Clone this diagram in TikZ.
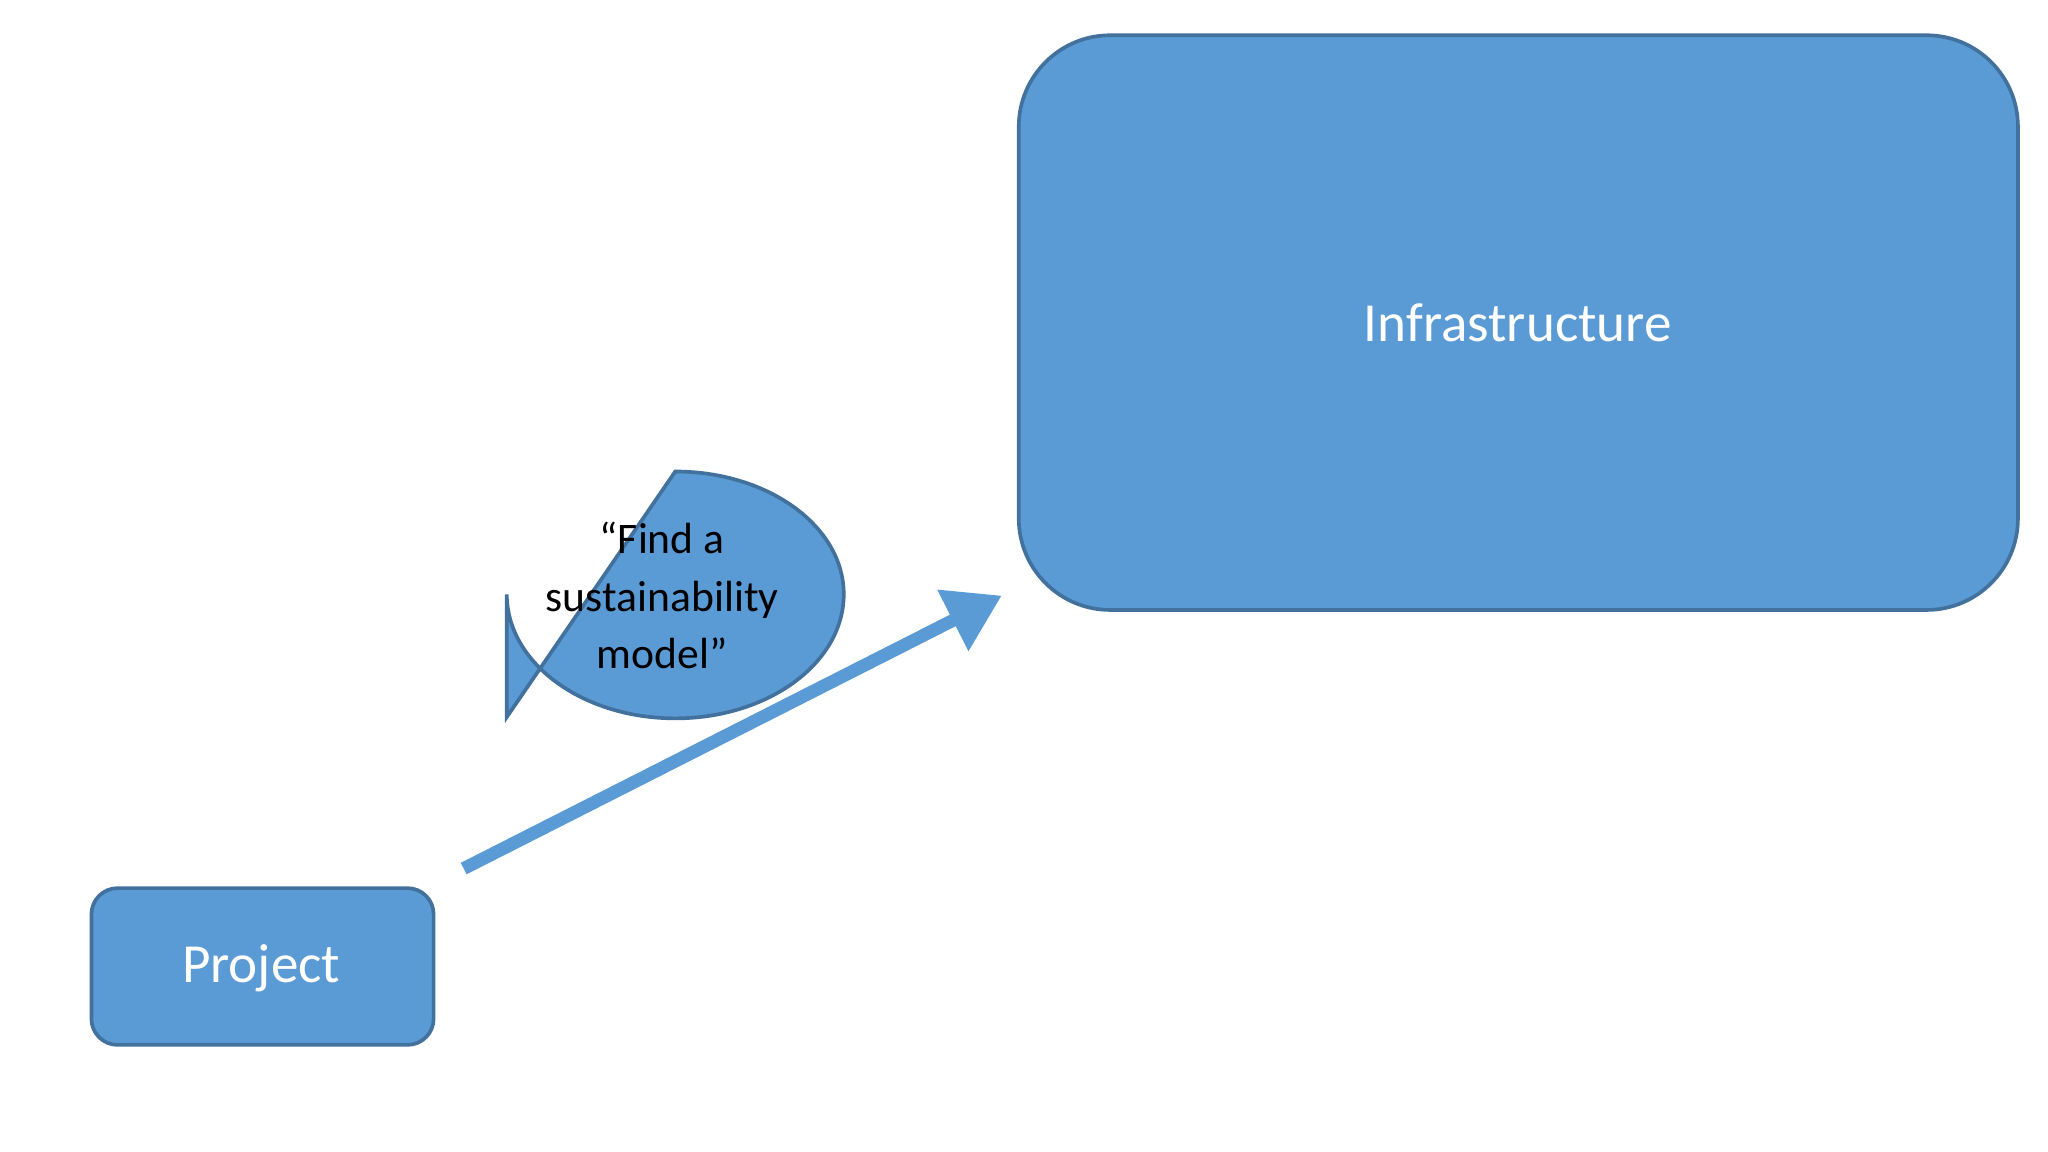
\documentclass[tikz,border=0pt]{standalone}
\usepackage{fontspec}
\setmainfont{Carlito}
\usetikzlibrary{arrows.meta}
\definecolor{fillb}{HTML}{5B9BD5}
\definecolor{edgeb}{HTML}{41719C}
\begin{document}
\begin{tikzpicture}[x=0.01cm,y=-0.01cm,
  box/.style={draw=edgeb,fill=fillb,line width=0.8pt,text=white}]
\useasboundingbox (0,0) rectangle (1568,882);
\fill[white] (0,0) rectangle (1568,882);
\draw[box,rounded corners=0.7cm] (780,27) rectangle (1545,467);
\node[text=white,font=\fontsize{12}{14}\selectfont] (infra) at (1162,247) {Infrastructure};
\draw[box,rounded corners=0.2cm] (70,680) rectangle (332,800);
\node[text=white,font=\fontsize{12}{14}\selectfont] (proj) at (200,741) {Project};
\draw[box] (388,549) -- (388,455) arc[start angle=180,end angle=0,x radius=129,y radius=95]
  arc[start angle=0,end angle=-90,x radius=129,y radius=94] -- cycle;
\node[align=center,font=\fontsize{9.5}{12.5}\selectfont] (bub) at (507,456) {“Find a\\sustainability\\model”};
\coordinate (a) at (355,665);
\coordinate (b) at (767,456);
\draw[fillb,line width=2.8pt,-{Triangle[length=0.42cm,width=0.5cm]}] (a) -- (b);
\end{tikzpicture}
\end{document}
